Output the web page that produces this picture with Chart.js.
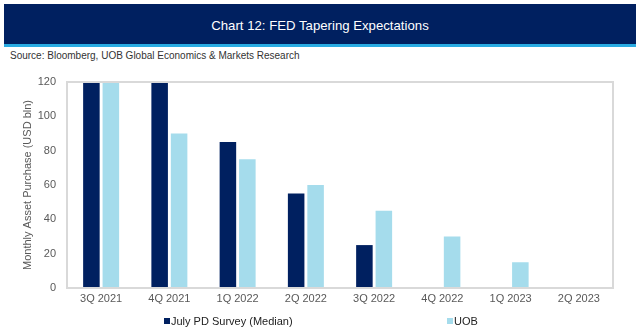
<!DOCTYPE html>
<html>
<head>
<meta charset="utf-8">
<script src="https://cdn.jsdelivr.net/npm/chart.js@4"></script>
<style>
  body { margin: 0; width: 640px; height: 335px; position: relative; background: #fff; font-family: 'Liberation Sans', Arial, sans-serif; overflow: hidden; }
  #header { position: absolute; left: 4px; top: 4px; width: 632px; height: 40px; background: #002060; border-bottom: 3px solid #29abe2; color: #fff; font-size: 13.2px; text-align: center; line-height: 44px; }
  #source { position: absolute; left: 10px; top: 50px; font-size: 10px; color: #333; }
  #chart-wrap { position: absolute; left: 0; top: 0; width: 640px; height: 335px; }
  .legend-item { position: absolute; top: 314px; font-size: 11px; color: #222; line-height: 14px; }
  .legend-item i { display: inline-block; width: 6px; height: 6px; margin-right: 1px; vertical-align: 1px; }
</style>
</head>
<body>
<div id="header">Chart 12: FED Tapering Expectations</div>
<div id="source">Source: Bloomberg, UOB Global Economics &amp; Markets Research</div>
<div id="chart-wrap"><canvas id="tapering-chart"></canvas></div>
<div class="legend-item" style="left:164px"><i style="background:#002060"></i>July PD Survey (Median)</div>
<div class="legend-item" style="left:447px"><i style="background:#a5dcec"></i>UOB</div>
<script>
const quarters = ['3Q 2021', '4Q 2021', '1Q 2022', '2Q 2022', '3Q 2022', '4Q 2022', '1Q 2023', '2Q 2023'];
const pdSurvey = [120, 120, 85, 55, 25, null, null, null];
const uobForecast = [120, 90, 75, 60, 45, 30, 15, 0];
const yTicks = [0, 20, 40, 60, 80, 100, 120];

const NAVY = '#002060';
const LIGHT_BLUE = '#a5dcec';
const TICK_GREY = '#595959';

// light grey frame round the plot area
const plotFrame = {
  id: 'plotFrame',
  afterDraw: (chart) => {
    const { ctx, chartArea } = chart;
    ctx.save();
    ctx.strokeStyle = '#d9d9d9';
    ctx.lineWidth = 2;
    ctx.strokeRect(chartArea.left, chartArea.top, chartArea.right - chartArea.left, chartArea.bottom - chartArea.top);
    ctx.restore();
  },
};

const canvas = document.getElementById('tapering-chart');
new Chart(canvas, {
  type: 'bar',
  data: {
    labels: quarters,
    datasets: [
      { label: 'July PD Survey (Median)', data: pdSurvey, backgroundColor: NAVY },
      { label: 'UOB', data: uobForecast, backgroundColor: LIGHT_BLUE },
    ],
  },
  options: {
    responsive: true,
    maintainAspectRatio: false,
    animation: false,
    layout: { padding: { top: 82, right: 27, bottom: 25, left: 0 } },
    datasets: { bar: { categoryPercentage: 0.57, barPercentage: 0.85 } },
    plugins: { legend: { display: false }, tooltip: { enabled: false } },
    scales: {
      x: {
        grid: { display: false, drawTicks: false },
        border: { display: false },
        ticks: { color: TICK_GREY, font: { family: 'Liberation Sans', size: 11 }, padding: 4, maxRotation: 0 },
        afterFit: (scale) => { scale.height = 22; },
      },
      y: {
        min: 0,
        max: 120,
        grid: { display: false, drawTicks: false },
        border: { display: false },
        afterBuildTicks: (scale) => { scale.ticks = yTicks.map((value) => ({ value })); },
        ticks: { color: TICK_GREY, font: { family: 'Liberation Sans', size: 11 }, padding: 11 },
        title: {
          display: true,
          text: 'Monthly Asset Purchase (USD bln)',
          color: TICK_GREY,
          font: { family: 'Liberation Sans', size: 11 },
          padding: { top: 21, bottom: 0 },
        },
        afterFit: (scale) => { scale.width = 67; },
      },
    },
  },
  plugins: [plotFrame],
});
</script>
</body>
</html>
